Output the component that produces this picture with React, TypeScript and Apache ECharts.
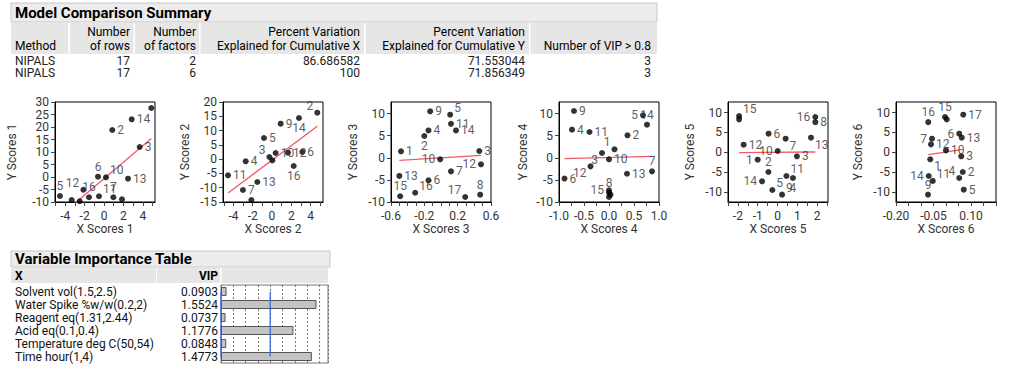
import React, { useEffect, useRef } from "react";
import * as echarts from "echarts";

const FONT = "Roboto, 'Noto Sans', sans-serif";
const TABLE_FS = 12;

// ---------- Model Comparison Summary ----------
const summaryTitle = "Model Comparison Summary";
const summaryMethod = ["NIPALS", "NIPALS"];
const summaryRows = ["17", "17"];
const summaryFactors = ["2", "6"];
const summaryPctX = ["86.686582", "100"];
const summaryPctY = ["71.553044", "71.856349"];
const summaryVip = ["3", "3"];

// ---------- Score plots ----------
const plot1X = [-4.54, -3.33, -2.51, -2.13, -1.55, -0.62, -0.52, 0.2, 0.96, 1.85, 0.85, 2.47, 2.85, 3.67, 4.87];
const plot1Y = [-7.6, -9.2, -9.7, -5.1, -8.1, 0.13, -7.7, -0.13, -8.1, -8.9, 18.8, -0.67, 23.07, 12.0, 27.6];
const plot1Labels = ["5", "", "", "12", "16", "6", "11", "10", "7", "", "2", "13", "14", "3", ""];
const plot1LabelPos = ["t", "", "", "tl", "t", "t", "tr", "tr", "t", "", "r", "r", "r", "r", ""];
const plot1Fit = [[-4.54, -15.6], [4.87, 15.36]];

const plot2X = [-4.56, -3.01, -2.73, -2.14, -1.52, -0.83, -0.27, 0.04, 0.38, 0.9, 1.66, 2.25, 2.8, 3.15, 4.7];
const plot2Y = [-5.67, -10.8, -0.77, -14.3, -8.0, 7.4, 0.75, -0.42, 2.15, 12.4, 2.27, -2.4, 14.4, 2.5, 16.27];
const plot2Labels = ["11", "7", "4", "", "13", "5", "3", "", "10", "9", "12", "16", "14", "6", "2"];
const plot2LabelPos = ["r", "r", "r", "", "r", "r", "tl", "", "r", "r", "r", "b", "b", "r", "tl"];
const plot2Fit = [[-4.56, -11.85], [4.7, 11.48]];

const plot3X = [-0.48, -0.5, -0.49, -0.31, -0.15, -0.2, -0.15, -0.13, -0.01, 0.11, 0.12, 0.18, 0.12, 0.29, 0.46, 0.48, 0.47];
const plot3Y = [1.47, -4.1, -8.7, -7.9, -5.1, 4.94, 6.2, 10.53, -0.34, 9.77, 7.7, 6.2, -3.06, -8.87, 1.55, -1.47, -8.34];
const plot3Labels = ["1", "13", "15", "16", "6", "2", "4", "9", "10", "5", "11", "14", "7", "17", "3", "12", "8"];
const plot3LabelPos = ["r", "r", "t", "tr", "r", "b", "r", "r", "l", "tr", "r", "r", "r", "tl", "r", "l", "t"];
const plot3Fit = [[-0.5, -0.57], [0.48, 0.57]];

const plot4X = [-0.89, -0.74, -0.7, -0.39, -0.37, -0.14, 0.11, 0.0, 0.0, 0.0, 0.03, 0.0, 0.37, 0.36, 0.68, 0.76, 0.86];
const plot4Y = [-4.7, 6.38, 10.6, 5.85, -1.93, 1.09, 1.93, -0.34, -7.36, -7.89, -8.34, -8.87, 5.1, -3.6, 9.63, 7.5, -3.06];
const plot4Labels = ["6", "4", "9", "11", "12", "3", "1", "10", "15", "8", "", "", "2", "13", "5", "14", "7"];
const plot4LabelPos = ["r", "r", "r", "r", "bl", "bl", "tl", "r", "l", "t", "", "", "r", "r", "l", "t", "t"];
const plot4Fit = [[-0.89, -0.19], [0.86, 0.34]];

const plot5X = [-1.94, -1.94, -1.71, -1.0, -0.45, -0.46, -0.78, -0.26, 0.01, 0.41, 0.23, 0.45, 0.78, 0.98, 1.69, 1.91, 1.91];
const plot5Y = [9.15, 8.3, 1.93, -1.85, 4.7, -4.95, -7.3, -9.48, 0.34, 3.44, -10.65, -5.96, -6.46, -1.0, 3.69, 8.9, 7.6];
const plot5Labels = ["15", "", "12", "1", "6", "2", "14", "5", "10", "7", "9", "11", "4", "3", "13", "16", "8"];
const plot5LabelPos = ["tr", "", "r", "l", "r", "t", "l", "tr", "l", "br", "tr", "tr", "b", "r", "br", "l", "r"];
const plot5Fit = [[-1.94, -0.08], [1.91, 0.09]];

const plot6X = [-0.071, -0.004, 0.003, 0.069, -0.056, -0.06, 0.0, -0.063, 0.053, 0.063, 0.061, 0.067, 0.053, -0.069, -0.053, 0.071, -0.072];
const plot6Y = [7.6, 8.9, 8.3, 9.48, 3.44, 2.01, 0.5, -1.76, 4.7, 3.69, -1.0, -4.95, -6.46, -5.96, -7.2, -9.4, -10.65];
const plot6Labels = ["16", "15", "", "17", "7", "12", "10", "1", "6", "13", "3", "2", "4", "14", "11", "5", "9"];
const plot6LabelPos = ["t", "t", "", "r", "l", "r", "r", "br", "l", "r", "r", "r", "tl", "l", "tr", "r", "t"];
const plot6Fit = [[-0.071, -0.59], [0.069, 0.76]];

// axis ranges / ticks
const axisRanges = [
  { xMin: -5.05, xMax: 5.25, yMin: -10, yMax: 30 },
  { xMin: -5.08, xMax: 5.29, yMin: -15, yMax: 20 },
  { xMin: -0.6, xMax: 0.6, yMin: -10, yMax: 12.64 },
  { xMin: -1, xMax: 1, yMin: -10, yMax: 12.64 },
  { xMin: -2.5, xMax: 2.55, yMin: -12.5, yMax: 12.67 },
  { xMin: -0.2, xMax: 0.2, yMin: -12.5, yMax: 12.67 },
];
const xTickValues = [
  [-5, -4, -3, -2, -1, 0, 1, 2, 3, 4, 5],
  [-5, -4, -3, -2, -1, 0, 1, 2, 3, 4, 5],
  [-0.6, -0.5, -0.4, -0.3, -0.2, -0.1, 0, 0.1, 0.2, 0.3, 0.4, 0.5, 0.6],
  [-1, -0.75, -0.5, -0.25, 0, 0.25, 0.5, 0.75, 1],
  [-2.5, -2, -1.5, -1, -0.5, 0, 0.5, 1, 1.5, 2, 2.5],
  [-0.2, -0.15, -0.1, -0.05, 0, 0.05, 0.1, 0.15, 0.2],
];
const xTickLabels = [
  [-4, -2, 0, 2, 4],
  [-4, -2, 0, 2, 4],
  [-0.6, -0.2, 0.2, 0.6],
  [-1, -0.5, 0, 0.5, 1],
  [-2, -1, 0, 1, 2],
  [-0.2, -0.05, 0.1],
];
const xLabelDecimals = [0, 0, 1, 1, 0, 2];
const yTickLabels = [
  [-10, -5, 0, 5, 10, 15, 20, 25, 30],
  [-15, -10, -5, 0, 5, 10, 15, 20],
  [-10, -5, 0, 5, 10],
  [-10, -5, 0, 5, 10],
  [-10, -5, 0, 5, 10],
  [-10, -5, 0, 5, 10],
];

// ---------- Variable Importance ----------
const vipTitle = "Variable Importance Table";
const vipVariables = [
  "Solvent vol(1.5,2.5)",
  "Water Spike %w/w(0.2,2)",
  "Reagent eq(1.31,2.44)",
  "Acid eq(0.1,0.4)",
  "Temperature deg C(50,54)",
  "Time hour(1,4)",
];
const vipValues = [0.0903, 1.5524, 0.0737, 1.1776, 0.0848, 1.4773];
const vipThreshold = 0.8;

const POS: any = {
  r: { position: "right", distance: 2 },
  l: { position: "left", distance: 2 },
  t: { position: "top", distance: 1 },
  b: { position: "bottom", distance: 1 },
  tr: { position: "right", distance: 1, offset: [0, -7] },
  tl: { position: "left", distance: 1, offset: [0, -7] },
  br: { position: "right", distance: 1, offset: [0, 7] },
  bl: { position: "left", distance: 1, offset: [0, 7] },
};

const plots = [
  { x: plot1X, y: plot1Y, labels: plot1Labels, pos: plot1LabelPos, fit: plot1Fit },
  { x: plot2X, y: plot2Y, labels: plot2Labels, pos: plot2LabelPos, fit: plot2Fit },
  { x: plot3X, y: plot3Y, labels: plot3Labels, pos: plot3LabelPos, fit: plot3Fit },
  { x: plot4X, y: plot4Y, labels: plot4Labels, pos: plot4LabelPos, fit: plot4Fit },
  { x: plot5X, y: plot5Y, labels: plot5Labels, pos: plot5LabelPos, fit: plot5Fit },
  { x: plot6X, y: plot6Y, labels: plot6Labels, pos: plot6LabelPos, fit: plot6Fit },
];

const PLOT_LEFT = [55, 223, 391, 559, 728, 896];
const PLOT_TOP = 102;
const PLOT_SIZE = 100;
const Y_NAME_GAP = [37, 32, 32, 30, 32, 32];

function txt(text: string, x: number, y: number, o: any = {}) {
  const size = o.size || TABLE_FS;
  return {
    type: "text",
    x,
    y,
    silent: true,
    style: {
      text,
      fill: o.fill || "#111",
      fontSize: size,
      fontWeight: o.weight || "normal",
      fontFamily: FONT,
      align: o.align || "left",
      textAlign: o.align || "left",
      verticalAlign: "middle",
      textVerticalAlign: "middle",
    },
  };
}
function rect(x: number, y: number, w: number, h: number, fill: string, stroke?: string) {
  return {
    type: "rect",
    silent: true,
    shape: { x, y, width: w, height: h },
    style: { fill, stroke: stroke || null, lineWidth: stroke ? 1 : 0 },
  };
}

function buildOption() {
  const grids: any[] = [];
  const xAxes: any[] = [];
  const yAxes: any[] = [];
  const series: any[] = [];

  plots.forEach((p, i) => {
    const r = axisRanges[i];
    grids.push({
      left: PLOT_LEFT[i],
      top: PLOT_TOP,
      width: PLOT_SIZE,
      height: PLOT_SIZE,
      show: true,
      borderColor: "#000",
      borderWidth: 1,
      backgroundColor: "#fff",
    });
    const dec = xLabelDecimals[i];
    xAxes.push({
      gridIndex: i,
      type: "value",
      min: r.xMin,
      max: r.xMax,
      axisLine: { show: true, onZero: false, lineStyle: { color: "#000", width: 1 } },
      axisTick: { show: true, length: 4, customValues: xTickValues[i], lineStyle: { color: "#444" } },
      axisLabel: {
        customValues: xTickLabels[i],
        formatter: (v: number) => v.toFixed(dec),
        color: "#333",
        fontSize: 12,
        fontFamily: FONT,
        margin: 8,
      },
      splitLine: { show: false },
      name: "X Scores " + (i + 1),
      nameLocation: "middle",
      nameGap: 21,
      nameTextStyle: { fontSize: 12, color: "#333", fontFamily: FONT },
    });
    yAxes.push({
      gridIndex: i,
      type: "value",
      min: r.yMin,
      max: r.yMax,
      axisLine: { show: true, onZero: false, lineStyle: { color: "#000", width: 1 } },
      axisTick: { show: true, length: 4, customValues: yTickLabels[i], lineStyle: { color: "#444" } },
      axisLabel: {
        customValues: yTickLabels[i],
        color: "#333",
        fontSize: 12,
        fontFamily: FONT,
        margin: 6,
      },
      splitLine: { show: false },
      name: "Y Scores " + (i + 1),
      nameLocation: "middle",
      nameGap: Y_NAME_GAP[i],
      nameTextStyle: { fontSize: 12, color: "#333", fontFamily: FONT },
    });
    series.push({
      type: "line",
      xAxisIndex: i,
      yAxisIndex: i,
      data: p.fit,
      symbol: "none",
      silent: true,
      clip: true,
      lineStyle: { color: "#ef5a6a", width: 1.3 },
      z: 2,
    });
    series.push({
      type: "scatter",
      xAxisIndex: i,
      yAxisIndex: i,
      symbolSize: 6,
      clip: true,
      itemStyle: { color: "#000" },
      z: 3,
      data: p.x.map((xv, k) => {
        const lab = p.labels[k];
        const pos = POS[p.pos[k]] || POS.r;
        return {
          value: [xv, p.y[k]],
          name: lab,
          label: {
            show: lab !== "",
            formatter: "{b}",
            color: "#333",
            fontSize: 12,
            fontFamily: FONT,
            ...pos,
          },
        };
      }),
    });
  });

  // VIP bar chart
  const vi = plots.length;
  grids.push({
    left: 221,
    top: 285,
    width: 107,
    height: 78,
    show: true,
    borderColor: "#777",
    borderWidth: 1,
    backgroundColor: "#fff",
  });
  xAxes.push({
    gridIndex: vi,
    type: "value",
    min: 0,
    max: 1.74,
    interval: 0.2,
    axisLine: { show: false },
    axisTick: { show: false },
    axisLabel: { show: false },
    splitLine: { show: true, lineStyle: { color: "#777", type: [2, 2], width: 1 } },
  });
  yAxes.push({
    gridIndex: vi,
    type: "category",
    data: vipVariables,
    inverse: true,
    axisLine: { show: false },
    axisTick: { show: false },
    axisLabel: { show: false },
    splitLine: { show: false },
  });
  series.push({
    type: "bar",
    xAxisIndex: vi,
    yAxisIndex: vi,
    data: vipValues,
    barWidth: 9,
    silent: true,
    itemStyle: { color: "#c4c4c4", borderColor: "#555", borderWidth: 1 },
  });
  [0, vipThreshold].forEach((v) => {
    series.push({
      type: "line",
      xAxisIndex: vi,
      yAxisIndex: vi,
      data: [
        [v, vipVariables[0]],
        [v, vipVariables[vipVariables.length - 1]],
      ],
      symbol: "none",
      silent: true,
      lineStyle: { color: "#2f62e6", width: 1.2 },
      z: 4,
    });
  });

  // ---------- tables as graphics ----------
  const g: any[] = [];
  // Model Comparison Summary
  g.push(rect(11, 3, 646, 19, "#ececec", "#c8c8c8"));
  g.push(txt(summaryTitle, 15, 12.5, { size: 15, weight: "bold", fill: "#000" }));
  g.push(rect(11, 23, 646, 31, "#e6e6e6"));
  [68.5, 133.5, 199, 364, 529].forEach((x) => g.push(rect(x, 23, 1.5, 31, "#ffffff")));
  const h1 = 31.5;
  const h2 = 45.5;
  g.push(txt("Method", 15, h2, { fill: "#000" }));
  g.push(txt("Number", 130, h1, { align: "right", fill: "#000" }));
  g.push(txt("of rows", 130, h2, { align: "right", fill: "#000" }));
  g.push(txt("Number", 196, h1, { align: "right", fill: "#000" }));
  g.push(txt("of factors", 196, h2, { align: "right", fill: "#000" }));
  g.push(txt("Percent Variation", 360, h1, { align: "right", fill: "#000" }));
  g.push(txt("Explained for Cumulative X", 360, h2, { align: "right", fill: "#000" }));
  g.push(txt("Percent Variation", 525, h1, { align: "right", fill: "#000" }));
  g.push(txt("Explained for Cumulative Y", 525, h2, { align: "right", fill: "#000" }));
  g.push(txt("Number of VIP > 0.8", 651, h2, { align: "right", fill: "#000" }));
  summaryMethod.forEach((m, i) => {
    const y = 60.5 + i * 12.9;
    g.push(txt(m, 15, y, { fill: "#222" }));
    g.push(txt(summaryRows[i], 130, y, { align: "right", fill: "#222" }));
    g.push(txt(summaryFactors[i], 196, y, { align: "right", fill: "#222" }));
    g.push(txt(summaryPctX[i], 360, y, { align: "right", fill: "#222" }));
    g.push(txt(summaryPctY[i], 525, y, { align: "right", fill: "#222" }));
    g.push(txt(summaryVip[i], 651, y, { align: "right", fill: "#222" }));
  });

  // Variable Importance Table
  g.push(rect(11, 251, 319, 16, "#ececec", "#c8c8c8"));
  g.push(txt(vipTitle, 15, 259, { size: 15, weight: "bold", fill: "#000" }));
  g.push(rect(11, 268, 145, 15, "#e6e6e6"));
  g.push(rect(157, 268, 63, 15, "#e6e6e6"));
  g.push(rect(221.5, 268, 106.5, 15, "#e6e6e6"));
  g.push(txt("X", 15, 276, { weight: "bold", fill: "#000" }));
  g.push(txt("VIP", 218, 276, { weight: "bold", fill: "#000", align: "right" }));
  vipVariables.forEach((v, i) => {
    const y = 291.5 + i * 13;
    g.push(txt(v, 15, y, { fill: "#111" }));
    g.push(txt(vipValues[i].toFixed(4), 218, y, { fill: "#111", align: "right" }));
  });

  return {
    animation: false,
    backgroundColor: "#fff",
    textStyle: { fontFamily: FONT },
    grid: grids,
    xAxis: xAxes,
    yAxis: yAxes,
    series,
    graphic: { elements: g },
  };
}

export default function App() {
  const ref = useRef<HTMLDivElement>(null);
  useEffect(() => {
    if (!ref.current) return;
    const chart = echarts.init(ref.current, undefined, { renderer: "svg" });
    chart.setOption(buildOption() as any);
    return () => chart.dispose();
  }, []);
  return (
    <div
      ref={ref}
      style={{ position: "absolute", left: 0, top: 0, width: 1013, height: 368, background: "#fff" }}
    />
  );
}
